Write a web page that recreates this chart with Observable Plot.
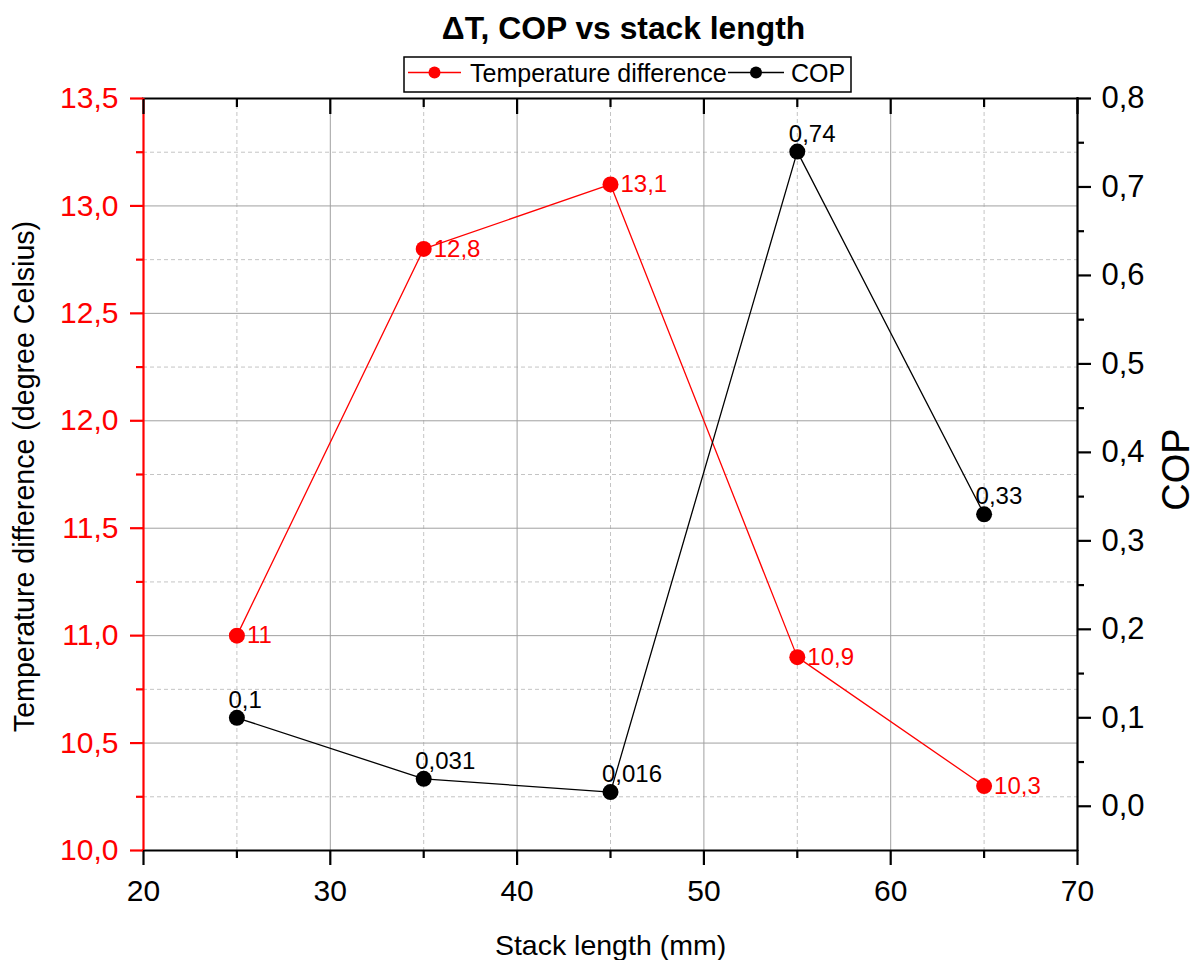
<!DOCTYPE html>
<html><head><meta charset="utf-8">
<script src="https://cdn.jsdelivr.net/npm/d3@7"></script>
<script src="https://cdn.jsdelivr.net/npm/@observablehq/plot@0.6"></script>
<style>body{margin:0;background:#fff;} #chart{position:relative;width:1200px;height:960px;}</style>
</head><body><div id="chart"></div><script>
// ---- data ----
const stackLength = [25, 35, 45, 55, 65];
const tempDiff = [11, 12.8, 13.1, 10.9, 10.3];
const copValues = [0.1, 0.031, 0.016, 0.74, 0.33];
const xMajorTicks = [20, 30, 40, 50, 60, 70];
const xMinorTicks = [25, 35, 45, 55, 65];
const tempMajorTicks = [10, 10.5, 11, 11.5, 12, 12.5, 13, 13.5];
const tempMinorTicks = [10.25, 10.75, 11.25, 11.75, 12.25, 12.75, 13.25];
const copMajorTicks = [0, 0.1, 0.2, 0.3, 0.4, 0.5, 0.6, 0.7, 0.8];
const copMinorTicks = [0.05, 0.15, 0.25, 0.35, 0.45, 0.55, 0.65, 0.75];
const tempDomain = [10, 13.5];
const copDomain = [-0.05, 0.8];
const titleText = "\u0394T, COP vs stack length";
const xTitle = "Stack length (mm)";
const yLeftTitle = "Temperature difference (degree Celsius)";
const yRightTitle = "COP";
const seriesNames = ["Temperature difference", "COP"];

// ---- helpers ----
const toT = c => tempDomain[0] + (c - copDomain[0]) * (tempDomain[1] - tempDomain[0]) / (copDomain[1] - copDomain[0]);
const fromT = t => copDomain[0] + (t - tempDomain[0]) * (copDomain[1] - copDomain[0]) / (tempDomain[1] - tempDomain[0]);
const fmt1 = v => d3.format(".1f")(v).replace(".", ",");
const fmtNum = v => String(v).replace(".", ",");

const tempRows = stackLength.map((x, i) => ({x, t: tempDiff[i]}));
const copRows = stackLength.map((x, i) => ({x, c: copValues[i]}));

const RED = "#ff0000";
const font = "'Liberation Sans', Arial, Helvetica, sans-serif";

const plot = Plot.plot({
  width: 1200, height: 960,
  marginLeft: 143, marginRight: 123, marginTop: 98, marginBottom: 110,
  style: {fontFamily: font, background: "#fff", overflow: "visible"},
  x: {domain: [20, 70]},
  y: {domain: tempDomain},
  marks: [
    Plot.gridX(xMinorTicks, {stroke: "#c4c4c4", strokeOpacity: 1, strokeDasharray: "4,3"}),
    Plot.gridY(tempMinorTicks, {stroke: "#c4c4c4", strokeOpacity: 1, strokeDasharray: "4,3"}),
    Plot.gridX(xMajorTicks.slice(1, -1), {stroke: "#a0a0a0", strokeOpacity: 1}),
    Plot.gridY(tempMajorTicks.slice(1, -1), {stroke: "#a0a0a0", strokeOpacity: 1}),
    Plot.ruleY([tempDomain[1]], {stroke: "#000", strokeWidth: 2.2, strokeLinecap: "square"}),
    Plot.ruleY([tempDomain[0]], {stroke: "#000", strokeWidth: 2.2, strokeLinecap: "square"}),
    Plot.ruleX([70], {stroke: "#000", strokeWidth: 2.2, strokeLinecap: "square"}),
    Plot.ruleX([20], {stroke: RED, strokeWidth: 2.2}),
    Plot.line(tempRows, {x: "x", y: "t", stroke: RED, strokeWidth: 1.3}),
    Plot.line(copRows, {x: "x", y: d => toT(d.c), stroke: "#000", strokeWidth: 1.3}),
    Plot.dot(tempRows, {x: "x", y: "t", r: 8, fill: RED}),
    Plot.dot(copRows, {x: "x", y: d => toT(d.c), r: 8, fill: "#000"}),
    Plot.text(tempRows, {x: "x", y: "t", text: d => fmtNum(d.t), dx: 10, textAnchor: "start", fill: RED, fontSize: 24}),
    Plot.text(copRows, {x: "x", y: d => toT(d.c), text: d => fmtNum(d.c), dx: -8.5, dy: -10, textAnchor: "start", lineAnchor: "bottom", fill: "#000", fontSize: 24}),
    // axes
    Plot.axisX(xMajorTicks, {anchor: "bottom", tickSize: 15, tickPadding: 14, strokeWidth: 2.2, fontSize: 30, tickFormat: d => String(d), label: null, color: "#000"}),
    Plot.axisX(xMinorTicks, {anchor: "bottom", tickSize: 8, strokeWidth: 2.2, tickFormat: () => "", label: null, color: "#000"}),
    Plot.axisX(xMajorTicks, {anchor: "top", tickSize: -15, strokeWidth: 2.2, tickFormat: () => "", label: null, color: "#000"}),
    Plot.axisX(xMinorTicks, {anchor: "top", tickSize: -8, strokeWidth: 2.2, tickFormat: () => "", label: null, color: "#000"}),
    Plot.axisY(tempMajorTicks, {anchor: "left", tickSize: 13, tickPadding: 12, strokeWidth: 2.2, fontSize: 30, tickFormat: fmt1, label: null, color: RED}),
    Plot.axisY(tempMinorTicks, {anchor: "left", tickSize: 7, strokeWidth: 2.2, tickFormat: () => "", label: null, color: RED}),
    Plot.axisY(copMajorTicks.map(toT), {anchor: "right", tickSize: 13, tickPadding: 11, strokeWidth: 2.2, fontSize: 31, tickFormat: d => fmt1(fromT(d)), label: null, color: "#000"}),
    Plot.axisY(copMinorTicks.map(toT), {anchor: "right", tickSize: 6, strokeWidth: 2.2, tickFormat: () => "", label: null, color: "#000"}),
    // titles
    Plot.text([xTitle], {text: d => d, frameAnchor: "bottom", dy: 84, textAnchor: "middle", lineAnchor: "top", fontSize: 28.5, fill: "#000"}),
    Plot.text([yLeftTitle], {text: d => d, frameAnchor: "left", dx: -119, dy: 2, rotate: -90, textAnchor: "middle", lineAnchor: "middle", fontSize: 28.6, fill: "#000"}),
    Plot.text([yRightTitle], {text: d => d, frameAnchor: "right", dx: 99, dy: -5, rotate: -90, textAnchor: "middle", lineAnchor: "middle", fontSize: 38, fill: "#000"}),
    Plot.text([titleText], {text: d => d, frameAnchor: "top", dx: 13, dy: -60, textAnchor: "middle", lineAnchor: "bottom", fontSize: 31.8, fontWeight: "bold", fill: "#000"})
  ]
});

// legend
const svg = d3.select(plot);
const lg = svg.append("g").attr("font-family", font).attr("font-size", 25).attr("text-anchor", "start");
lg.append("rect").attr("x", 404).attr("y", 57).attr("width", 447).attr("height", 35)
  .attr("fill", "#fff").attr("stroke", "#000").attr("stroke-width", 1.5);
const legendItems = [
  {name: seriesNames[0], color: RED, x0: 408, x1: 461, tx: 470},
  {name: seriesNames[1], color: "#000", x0: 728, x1: 784, tx: 791}
];
legendItems.forEach(it => {
  lg.append("line").attr("x1", it.x0).attr("x2", it.x1).attr("y1", 72.5).attr("y2", 72.5)
    .attr("stroke", it.color).attr("stroke-width", 1.3);
  lg.append("circle").attr("cx", (it.x0 + it.x1) / 2).attr("cy", 72.5).attr("r", 6).attr("fill", it.color);
  lg.append("text").attr("x", it.tx).attr("y", 82).attr("fill", "#000").text(it.name);
});

document.getElementById("chart").appendChild(plot);
</script></body></html>
